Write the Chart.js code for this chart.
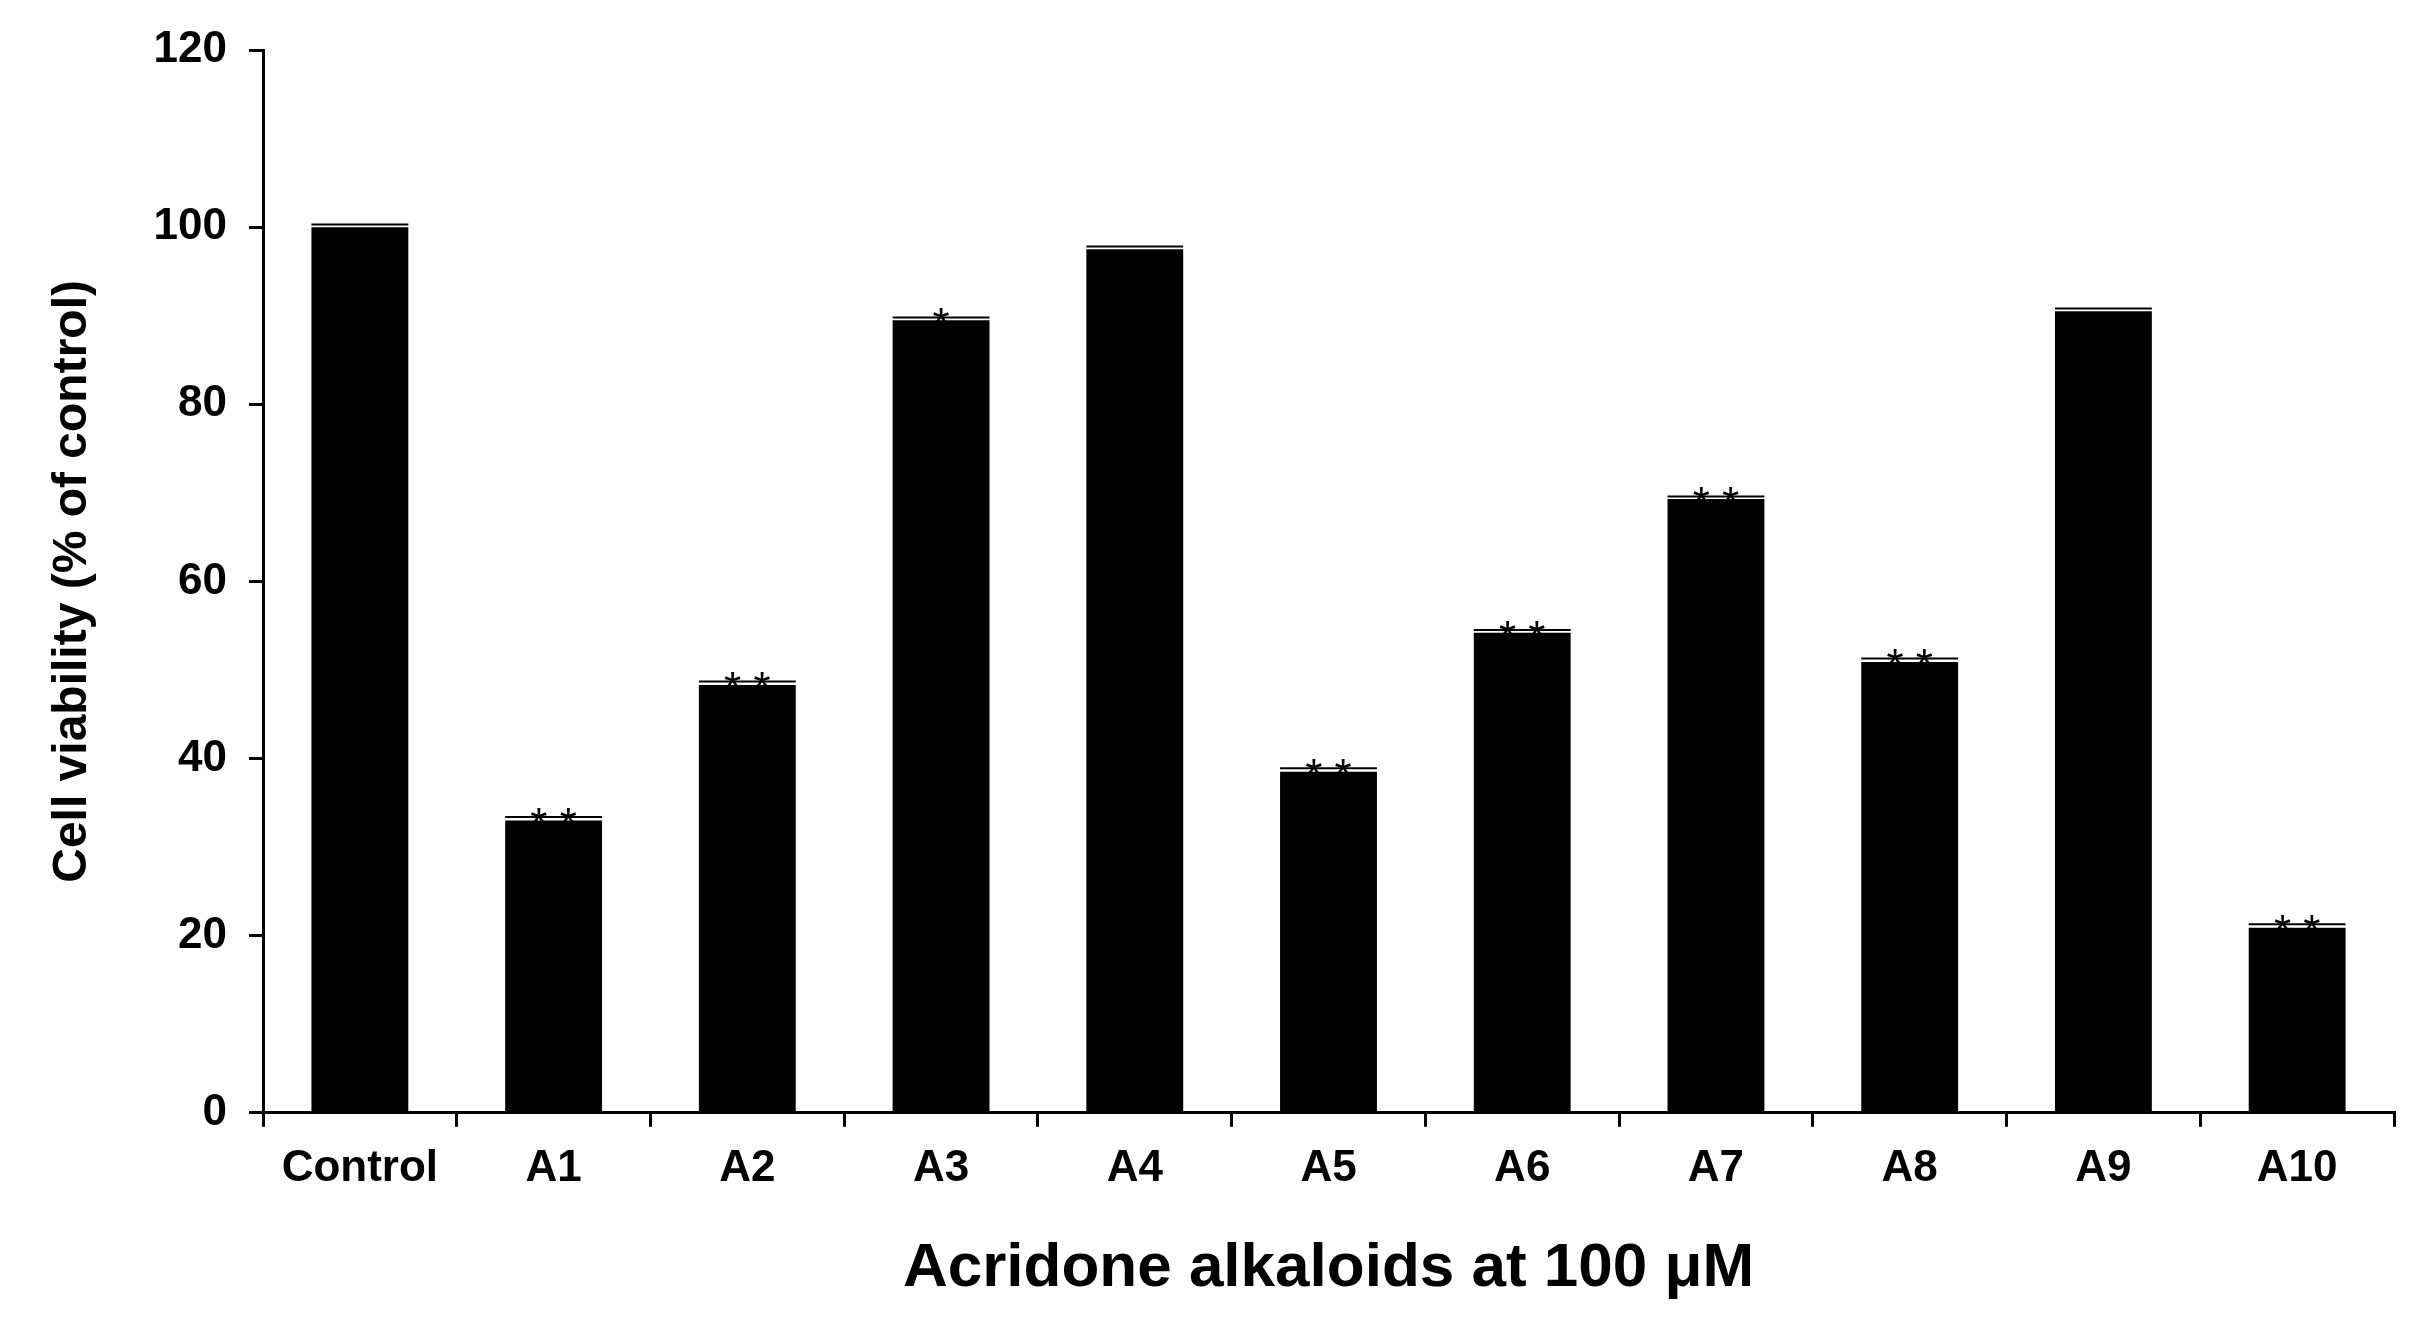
<!DOCTYPE html>
<html><head><meta charset="utf-8">
<script src="https://cdn.jsdelivr.net/npm/chart.js@4/dist/chart.umd.min.js"></script>
<style>html,body{margin:0;background:#fff}#w{width:2412px;height:1320px}</style>
</head><body><div id="w"><canvas id="c"></canvas></div>
<script>
const categories=["Control","A1","A2","A3","A4","A5","A6","A7","A8","A9","A10"];
const viability=[100,33,48.3,89.5,97.5,38.5,54.2,69.3,50.9,90.5,20.9];
const errors=[0.3,0.4,0.4,0.3,0.3,0.4,0.3,0.3,0.4,0.3,0.4];
const significance=["","**","**","*","","**","**","**","**","","**"];
const yTicks=[0,20,40,60,80,100,120];
const F="'Liberation Sans', Arial, sans-serif";
const marks={id:'marks',afterDatasetsDraw(ch){
  const ctx=ch.ctx, m=ch.getDatasetMeta(0), y=ch.scales.y;
  ctx.save();ctx.strokeStyle='#000';ctx.lineWidth=2;
  m.data.forEach((b,i)=>{
    const top=y.getPixelForValue(viability[i]+errors[i]);
    ctx.beginPath();ctx.moveTo(b.x-b.width/2,top);ctx.lineTo(b.x+b.width/2,top);ctx.stroke();
    if(significance[i]){
      ctx.fillStyle='#000';ctx.font="44px "+F;ctx.textAlign='center';ctx.textBaseline='alphabetic';
      ctx.fillText(significance[i].split('').join(' '),b.x,top-8+30);
    }
  });ctx.restore();}};
new Chart(document.getElementById('c'),{type:'bar',
 data:{labels:categories,datasets:[{data:viability,backgroundColor:'#000',barPercentage:0.5,categoryPercentage:1}]},
 options:{responsive:true,maintainAspectRatio:false,animation:false,
  layout:{padding:{top:50,right:18,left:40,bottom:10}},
  plugins:{legend:{display:false},tooltip:{enabled:false}},
  scales:{
   x:{grid:{display:true,drawOnChartArea:false,offset:true,color:'#000',lineWidth:3,tickLength:14,tickWidth:3},
      border:{color:'#000',width:3},
      ticks:{color:'#000',font:{family:F,size:44,weight:'bold'},padding:16},
      title:{display:true,text:'Acridone alkaloids at 100 μM',color:'#000',font:{family:F,size:62,weight:'bold'},padding:{top:20}}},
   y:{min:0,max:120,afterBuildTicks(s){s.ticks=yTicks.map(v=>({value:v}));},
      grid:{display:true,drawOnChartArea:false,color:'#000',lineWidth:3,tickLength:14,tickWidth:3},
      border:{color:'#000',width:3},
      ticks:{color:'#000',font:{family:F,size:44,weight:'bold'},padding:22},
      title:{display:true,text:'Cell viability (% of control)',color:'#000',font:{family:F,size:48,weight:'bold'},padding:{bottom:30}}}
  }},plugins:[marks]});
</script></body></html>
